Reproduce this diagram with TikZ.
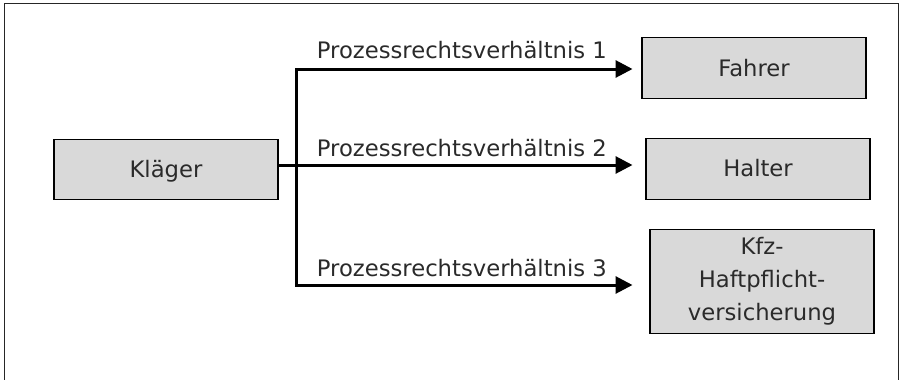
\documentclass[tikz,border=0pt]{standalone}
\usepackage{fontspec}
\setmainfont{DejaVu Sans}
\usetikzlibrary{arrows.meta}
\definecolor{boxfill}{HTML}{D9D9D9}
\definecolor{txt}{HTML}{2A2A2A}
\begin{document}
\begin{tikzpicture}[x=1pt,y=-1pt,
  party/.style={draw=black, line width=1.2pt, fill=boxfill, minimum width=224pt, inner sep=0pt,
     text=txt, font=\fontsize{22.7}{33}\selectfont, align=center},
  rel/.style={anchor=base west, inner sep=0pt, text=txt, font=\fontsize{22.7}{26}\selectfont},
  conn/.style={line width=3pt, line cap=rect},
  arr/.style={line width=3pt, -{Triangle[length=17pt,width=17pt]}}]
\useasboundingbox (0,0) rectangle (902,380);
\draw[line width=1pt, black!85] (4.7,420) -- (4.7,3) -- (898,3) -- (898,420);

\node[party, minimum height=60pt, text height=16.5pt, text depth=0pt] (kl) at (166,169.2) {Kläger};
\node[party, minimum height=61pt, text height=16.5pt, text depth=0pt] (fa) at (754,68) {Fahrer};
\node[party, minimum height=61pt, text height=16.5pt, text depth=0pt] (ha) at (758,168.7) {Halter};
\node[party, minimum height=104pt] (kf) at (762,281.2) {Kfz-\\Haftpflicht-\\versicherung};

\coordinate (t1) at (296,69);
\coordinate (t2) at (296,165);
\coordinate (t3) at (296,285);
\coordinate (e1) at (632.5,69);
\coordinate (e2) at (632.5,165);
\coordinate (e3) at (632.5,285);

\draw[conn] (t1) -- (t3);
\draw[conn] (kl.east |- t2) -- (t2);
\draw[arr] (t1) -- (e1);
\draw[arr] (t2) -- (e2);
\draw[arr] (t3) -- (e3);

\node[rel] (r1) at (316.7,58.3) {Prozessrechtsverhältnis 1};
\node[rel] (r2) at (316.7,156) {Prozessrechtsverhältnis 2};
\node[rel] (r3) at (316.7,276) {Prozessrechtsverhältnis 3};
\end{tikzpicture}
\end{document}
